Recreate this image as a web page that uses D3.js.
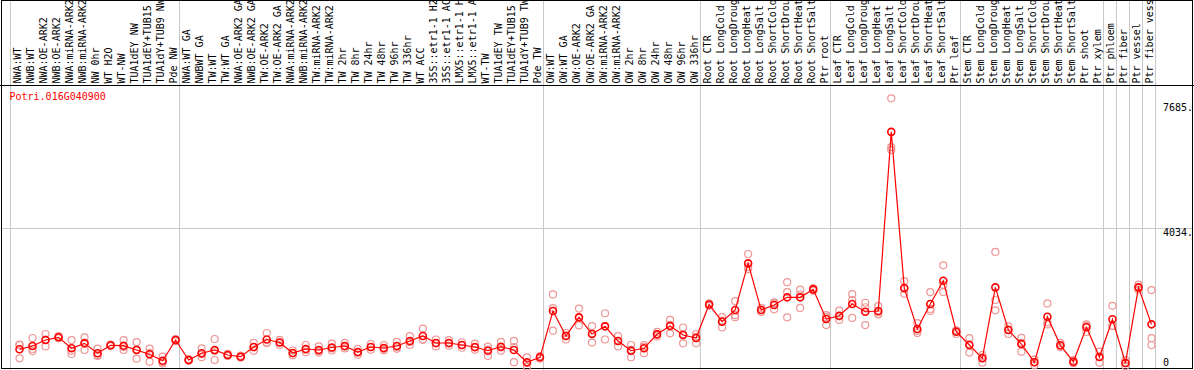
<!DOCTYPE html>
<html>
<head>
<meta charset="utf-8">
<script src="https://cdn.jsdelivr.net/npm/d3@7"></script>
<style>
  body { margin: 0; background: #fff; }
  svg text { font-family: "DejaVu Sans Mono", monospace; font-size: 10px; }
</style>
</head>
<body>
<div class="graph"></div>
<script>
// Datos
const gen = 'Potri.016G040900'

const muestras = ['NWA:WT','NWB:WT','NWA:OE-ARK2','NWB:OE-ARK2','NWA:miRNA-ARK2','NWB:miRNA-ARK2','NW 0hr','WT H2O','WT-NW','TUA1dEY NW','TUA1dEY+TUB15 NW','TUA1dY+TUB9 NW','Pde NW',
  'NWA:WT GA','NWBWT GA','TW:WT','TW:WT GA','NWA:OE-ARK2 GA','NWB:OE-ARK2 GA','TW:OE-ARK2','TW:OE-ARK2 GA','NWA:miRNA-ARK2 GA','NWB:miRNA-ARK2 GA','TW:miRNA-ARK2','TW:miRNA-ARK2 GA','TW 2hr','TW 8hr','TW 24hr','TW 48hr','TW 96hr','TW 336hr','WT ACC','35S::etr1-1 H2O','35S::etr1-1 ACC','LMX5::etr1-1 H2O','LMX5::etr1-1 ACC','WT-TW','TUA1dEY TW','TUA1dEY+TUB15 TW','TUA1dY+TUB9 TW','Pde TW',
  'OW:WT','OW:WT GA','OW:OE-ARK2','OW:OE-ARK2 GA','OW:miRNA-ARK2','OW:miRNA-ARK2 GA','OW 2hr','OW 8hr','OW 24hr','OW 48hr','OW 96hr','OW 336hr',
  'Root CTR','Root LongCold','Root LongDrought','Root LongHeat','Root LongSalt','Root ShortCold','Root ShortDrought','Root ShortHeat','Root ShortSalt','Ptr root',
  'Leaf CTR','Leaf LongCold','Leaf LongDrought','Leaf LongHeat','Leaf LongSalt','Leaf ShortCold','Leaf ShortDrought','Leaf ShortHeat','Leaf ShortSalt','Ptr leaf',
  'Stem CTR','Stem LongCold','Stem LongDrought','Stem LongHeat','Stem LongSalt','Stem ShortCold','Stem ShortDrought','Stem ShortHeat','Stem ShortSalt','Ptr shoot','Ptr xylem','Ptr phloem','Ptr fiber','Ptr vessel','Ptr fiber vessel']

const medias = [515,611,785,864,544,689,399,631,620,495,369,183,785,
  204,399,495,349,300,582,800,713,407,524,495,567,611,436,582,553,611,756,902,698,698,640,582,474,591,495,137,282,
  1629,902,1446,960,1184,756,474,544,951,1193,931,844,
  1818,1318,1658,3017,1658,1804,2028,2028,2260,1396,
  1492,1833,1609,1629,6845,2298,1105,1833,2510,1027,
  640,253,2318,1076,669,137,1463,631,154,1155,291,1388,116,2318,1242]

// replicas
const rep1 = [640,844,960,900,785,860,535,650,785,727,535,300,815,
  230,545,815,380,330,700,990,790,480,640,600,680,700,530,670,640,730,900,1120,800,780,720,680,591,730,760,282,320,
  2113,990,1700,1190,1565,900,640,640,1020,1370,1150,960,
  1850,1450,1920,3290,1720,1850,2470,2250,2300,1510,
  1640,2120,1870,1770,7820,2500,1280,2180,2960,1060,
  840,350,3350,1180,850,220,1850,700,200,1240,445,1780,200,2400,2240]

const rep2 = [253,524,600,850,378,495,340,610,495,242,155,105,755,
  180,285,204,320,280,470,700,640,340,430,420,480,540,360,500,490,530,640,800,600,620,560,500,320,470,140,10,240,
  1716,800,1210,710,800,600,284,400,890,980,690,690,
  1780,1150,1510,2850,1600,1680,2180,1720,2220,1220,
  1370,1430,1220,1530,6400,2130,990,1630,2180,960,
  420,125,1950,960,445,50,1240,580,110,1020,125,1190,30,2250,840]

const rep3 = [650,465,795,840,470,710,320,630,580,515,415,145,785,
  200,370,465,345,290,575,710,710,400,500,465,540,590,420,575,530,575,730,790,690,690,640,565,510,570,580,120,290,
  1056,915,1430,980,1190,760,500,590,950,1230,950,880,
  1820,1350,1450,2910,1660,1880,1446,2110,2260,1450,
  1470,1950,1740,1590,6320,2270,1050,1690,2390,1060,
  660,280,1650,1090,710,140,1300,620,150,1200,300,1200,120,2300,640]

const ticksY = [0, 4034, 7685]

// índices donde van las líneas grises verticales
const separadores = [0, 13, 41, 53, 63, 73, 84, 85, 86, 87, 88]

// tamaño del SVG
let width = 1194, height = 370
const cabecera = 85.5
const colorMedia = 'rgb(255, 0, 0)',
      colorRep = 'rgb(238, 150, 150)',
      colorGuia = 'rgb(200, 200, 200)'

const svg = d3.select('.graph')
              .append('svg')
              .attr('width', width)
              .attr('height', height)

// escalas
const xScale = d3.scaleBand()
                 .domain(muestras)
                 .range([10.5, 1155.5])
const yScale = d3.scaleLinear()
                 .domain([0, 7685])
                 .range([367, 103])

const px = d => xScale(d) + 9

// guías
svg.selectAll('.sep')
  .data(separadores)
  .enter()
  .append('line')
  .attr('class', 'sep')
  .attr('x1', d => xScale.range()[0] + d * xScale.step())
  .attr('x2', d => xScale.range()[0] + d * xScale.step())
  .attr('y1', 0)
  .attr('y2', height)
  .attr('stroke', colorGuia)
  .attr('shape-rendering', 'crispEdges')

svg.append('line')
  .attr('x1', 1.5).attr('x2', 1192.5)
  .attr('y1', Math.round(yScale(4034)) + 0.5)
  .attr('y2', Math.round(yScale(4034)) + 0.5)
  .attr('stroke', colorGuia)
  .attr('shape-rendering', 'crispEdges')

// bordes
svg.append('rect')
  .attr('x', 1.5).attr('y', 0.5)
  .attr('width', 1191).attr('height', 368)
  .attr('fill', 'none')
  .attr('stroke', 'black')
  .attr('shape-rendering', 'crispEdges')

svg.append('line')
  .attr('x1', 0).attr('x2', width)
  .attr('y1', cabecera).attr('y2', cabecera)
  .attr('stroke', 'black')
  .attr('shape-rendering', 'crispEdges')

// nombres de las muestras
svg.selectAll('.muestra')
  .data(muestras)
  .enter()
  .append('text')
  .attr('class', 'muestra')
  .attr('transform', d => `translate(${xScale(d) + 10.5},${cabecera - 2}) rotate(-90)`)
  .text(d => d)

// eje derecho
svg.selectAll('.tick-y')
  .data(ticksY)
  .enter()
  .append('text')
  .attr('class', 'tick-y')
  .attr('x', 1163)
  .attr('y', d => Math.min(yScale(d) + 8, 366))
  .text(d => d === 0 ? '0' : d + '.')

svg.append('text')
  .attr('x', 9.5)
  .attr('y', 100)
  .attr('fill', colorMedia)
  .text(gen)

// replicas
const reps = []
muestras.forEach((m, i) => {
  reps.push([m, rep1[i]], [m, rep2[i]], [m, rep3[i]])
})

svg.selectAll('.rep')
  .data(reps)
  .enter()
  .append('circle')
  .attr('class', 'rep')
  .attr('cx', d => px(d[0]))
  .attr('cy', d => yScale(d[1]))
  .attr('r', 3.5)
  .attr('fill', 'none')
  .attr('stroke', colorRep)
  .attr('stroke-width', 1.2)

// línea de medias
const datos = muestras.map((m, i) => [m, medias[i]])

svg.append('path')
  .datum(datos)
  .attr('d', d3.line().x(d => px(d[0])).y(d => yScale(d[1])))
  .attr('fill', 'none')
  .attr('stroke', colorMedia)
  .attr('stroke-width', 1.2)

svg.selectAll('.media')
  .data(datos)
  .enter()
  .append('circle')
  .attr('class', 'media')
  .attr('cx', d => px(d[0]))
  .attr('cy', d => yScale(d[1]))
  .attr('r', 3.5)
  .attr('fill', 'none')
  .attr('stroke', colorMedia)
  .attr('stroke-width', 1.6)
</script>
</body>
</html>
